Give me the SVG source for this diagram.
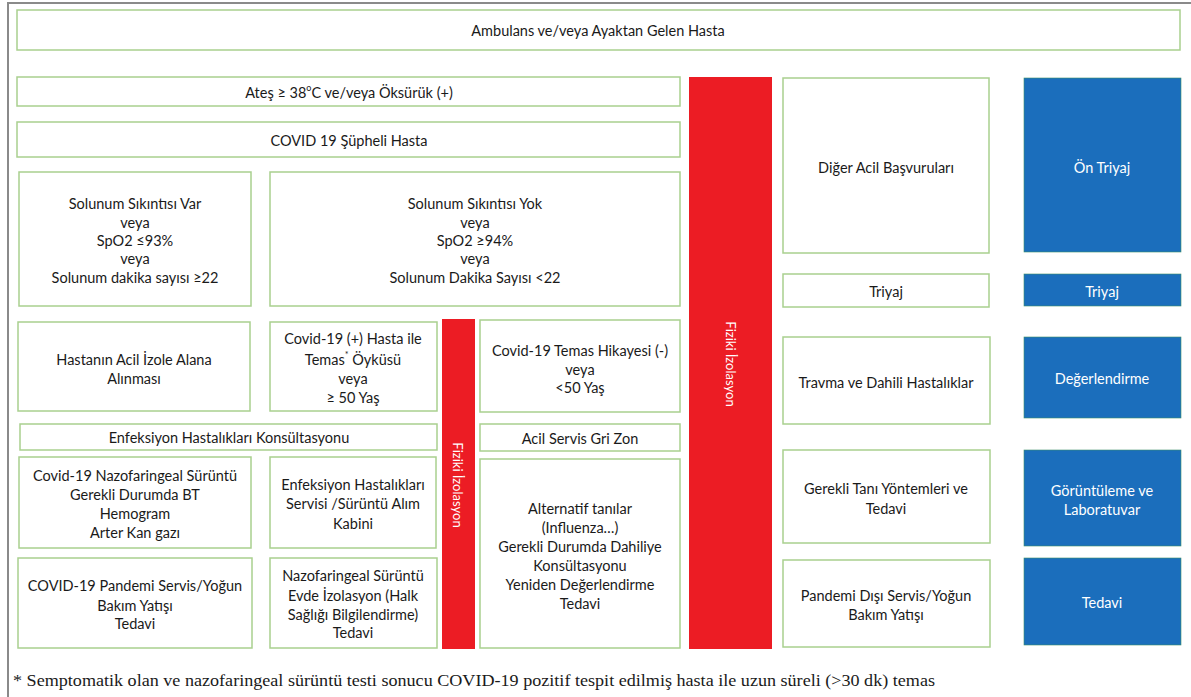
<svg xmlns="http://www.w3.org/2000/svg" width="1191" height="697" viewBox="0 0 1191 697">
<style>
.b{fill:#fff;stroke:#a9d08e;stroke-width:1.5}
.bl{fill:#1b6ebc;stroke:#3f8f6a;stroke-width:0.6}
.r{fill:#ec1c24}
text{font-family:Lato,"Liberation Sans",sans-serif;font-size:14.5px;fill:#1a1a1a;text-anchor:middle;dominant-baseline:central}
.w{fill:#fff}
.v{fill:#fff;font-size:13px}
.f{font-family:"Liberation Serif",serif;font-size:16px;text-anchor:start}
</style>
<rect width="1191" height="697" fill="#fff"/>
<g id="frame" stroke="#8a8a8a" stroke-width="2" fill="none"><path d="M8,697 V3 H1191"/></g>
<g id="connectors"></g>
<g id="n-ambulans"><rect class="b" x="17" y="10" width="1163" height="40"/><text x="598" y="30">Ambulans ve/veya Ayaktan Gelen Hasta</text></g>
<g id="n-ates"><rect class="b" x="17" y="77" width="663" height="29"/><text x="349" y="92">Ateş ≥ 38<tspan font-size="9" dy="-5">o</tspan><tspan dy="5">C ve/veya Öksürük (+)</tspan></text></g>
<g id="n-supheli"><rect class="b" x="17" y="122" width="663" height="35"/><text x="349" y="140">COVID 19 Şüpheli Hasta</text></g>
<g id="n-var"><rect class="b" x="19" y="172" width="232" height="134"/><text x="135" y="203">Solunum Sıkıntısı Var</text><text x="135" y="222">veya</text><text x="135" y="240">SpO2 ≤93%</text><text x="135" y="258">veya</text><text x="135" y="277">Solunum dakika sayısı ≥22</text></g>
<g id="n-yok"><rect class="b" x="270" y="172" width="410" height="134"/><text x="475" y="203">Solunum Sıkıntısı Yok</text><text x="475" y="222">veya</text><text x="475" y="240">SpO2 ≥94%</text><text x="475" y="258">veya</text><text x="475" y="277">Solunum Dakika Sayısı &lt;22</text></g>
<g id="n-izole"><rect class="b" x="18" y="322" width="232" height="89"/><text x="134" y="359">Hastanın Acil İzole Alana</text><text x="134" y="378">Alınması</text></g>
<g id="n-temas-pos"><rect class="b" x="270" y="322" width="167" height="89"/><text x="353" y="338">Covid-19 (+) Hasta ile</text><text x="353" y="359">Temas<tspan font-size="9" dy="-5">*</tspan><tspan dy="5"> Öyküsü</tspan></text><text x="353" y="378">veya</text><text x="353" y="397">≥ 50 Yaş</text></g>
<g id="n-fiziki-small"><rect class="r" x="442" y="319" width="33" height="330"/><text class="v" transform="translate(458,485) rotate(90)">Fiziki İzolasyon</text></g>
<g id="n-temas-neg"><rect class="b" x="480" y="320" width="200" height="92"/><text x="580" y="350">Covid-19 Temas Hikayesi (-)</text><text x="580" y="369">veya</text><text x="580" y="387">&lt;50 Yaş</text></g>
<g id="n-gri"><rect class="b" x="480" y="424" width="200" height="27"/><text x="580" y="438">Acil Servis Gri Zon</text></g>
<g id="n-alternatif"><rect class="b" x="480" y="459" width="200" height="189"/><text x="580" y="508">Alternatif tanılar</text><text x="580" y="527">(Influenza…)</text><text x="580" y="546">Gerekli Durumda Dahiliye</text><text x="580" y="565">Konsültasyonu</text><text x="580" y="584">Yeniden Değerlendirme</text><text x="580" y="603">Tedavi</text></g>
<g id="n-konsultasyon"><rect class="b" x="20" y="424" width="417" height="26"/><text x="229" y="437">Enfeksiyon Hastalıkları Konsültasyonu</text></g>
<g id="n-nazo"><rect class="b" x="19" y="457" width="232" height="91"/><text x="135" y="475">Covid-19 Nazofaringeal Sürüntü</text><text x="135" y="494">Gerekli Durumda BT</text><text x="135" y="513">Hemogram</text><text x="135" y="532">Arter Kan gazı</text></g>
<g id="n-servis"><rect class="b" x="270" y="457" width="166" height="91"/><text x="353" y="484">Enfeksiyon Hastalıkları</text><text x="353" y="503">Servisi /Sürüntü Alım</text><text x="353" y="523">Kabini</text></g>
<g id="n-pandemi"><rect class="b" x="18" y="558" width="234" height="90"/><text x="135" y="585">COVID-19 Pandemi Servis/Yoğun</text><text x="135" y="605">Bakım Yatışı</text><text x="135" y="623">Tedavi</text></g>
<g id="n-evde"><rect class="b" x="270" y="558" width="167" height="90"/><text x="353" y="575">Nazofaringeal Sürüntü</text><text x="353" y="595">Evde İzolasyon (Halk</text><text x="353" y="614">Sağlığı Bilgilendirme)</text><text x="353" y="632">Tedavi</text></g>
<g id="n-fiziki-big"><rect class="r" x="689" y="77" width="83" height="572"/><text class="v" transform="translate(731,364) rotate(90)">Fiziki İzolasyon</text></g>
<g id="n-diger"><rect class="b" x="783" y="78" width="206" height="175"/><text x="886" y="167">Diğer Acil Başvuruları</text></g>
<g id="n-triyaj"><rect class="b" x="783" y="274" width="206" height="33"/><text x="886" y="291">Triyaj</text></g>
<g id="n-travma"><rect class="b" x="783" y="337" width="207" height="87"/><text x="886" y="382">Travma ve Dahili Hastalıklar</text></g>
<g id="n-tani"><rect class="b" x="783" y="450" width="207" height="93"/><text x="886" y="488">Gerekli Tanı Yöntemleri ve</text><text x="886" y="508">Tedavi</text></g>
<g id="n-pandemi-disi"><rect class="b" x="783" y="560" width="207" height="87"/><text x="886" y="595">Pandemi Dışı Servis/Yoğun</text><text x="886" y="614">Bakım Yatışı</text></g>
<g id="n-on-triyaj"><rect class="bl" x="1024" y="78" width="157" height="174"/><text class="w" x="1102" y="167">Ön Triyaj</text></g>
<g id="n-triyaj-b"><rect class="bl" x="1024" y="274" width="157" height="32"/><text class="w" x="1102" y="291">Triyaj</text></g>
<g id="n-deger"><rect class="bl" x="1024" y="337" width="157" height="81"/><text class="w" x="1102" y="378">Değerlendirme</text></g>
<g id="n-goruntu"><rect class="bl" x="1024" y="450" width="157" height="96"/><text class="w" x="1102" y="490">Görüntüleme ve</text><text class="w" x="1102" y="509">Laboratuvar</text></g>
<g id="n-tedavi"><rect class="bl" x="1024" y="558" width="157" height="87"/><text class="w" x="1102" y="602">Tedavi</text></g>
<g id="footnote"><text class="f" x="13" y="680" textLength="922" lengthAdjust="spacingAndGlyphs">* Semptomatik olan ve nazofaringeal sürüntü testi sonucu COVID-19 pozitif tespit edilmiş hasta ile uzun süreli (&gt;30 dk) temas</text></g>
</svg>
